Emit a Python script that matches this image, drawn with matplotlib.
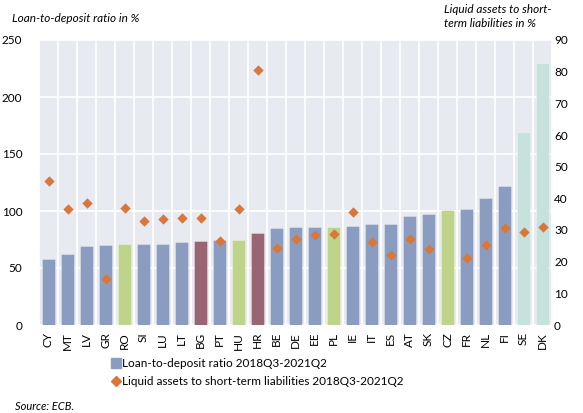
import matplotlib
matplotlib.use("Agg")
import matplotlib.pyplot as plt
from matplotlib.ticker import MultipleLocator, FixedLocator
from matplotlib.lines import Line2D
import numpy as np

countries = ["CY", "MT", "LV", "GR", "RO", "SI", "LU", "LT", "BG", "PT", "HU", "HR", "BE",
             "DE", "EE", "PL", "IE", "IT", "ES", "AT", "SK", "CZ", "FR", "NL", "FI", "SE", "DK"]
loan_to_deposit = [58, 62.3, 69.6, 70.2, 71.3, 71.1, 71.3, 73.1, 74.0, 74.3, 74.9, 81.0, 85.4,
                   85.6, 86.0, 86.0, 86.5, 88.9, 88.9, 95.6, 97.1, 100.9, 101.5, 111.7, 121.9, 169.3, 229.8]
liquid_assets = [45.6, 36.7, 38.5, 14.5, 36.9, 32.8, 33.4, 33.8, 33.8, 26.6, 36.6, 80.5, 24.2,
                 27.1, 28.3, 28.7, 35.8, 26.2, 22.2, 27.2, 24.0, np.nan, 21.2, 25.4, 30.5, 29.4, 30.8]
groups = ["a", "a", "a", "a", "b", "a", "a", "a", "c", "a", "b", "c", "a",
          "a", "a", "b", "a", "a", "a", "a", "a", "b", "a", "a", "a", "d", "d"]
labels = ["Loan-to-deposit ratio 2018Q3-2021Q2",
          "Liquid assets to short-term liabilities 2018Q3-2021Q2"]

group_colors = {"a": "#8A9DC0", "b": "#BED488", "c": "#996575", "d": "#C7E2DC"}
bg = "#E8EAF2"
orange = "#D9773A"

plt.rcParams["font.family"] = ["Lato", "DejaVu Sans"]

fig = plt.figure(figsize=(5.83, 4.13), dpi=100)
ax = fig.add_axes([39 / 583, 1 - 325 / 413, 513 / 583, 285 / 413])
ax.set_facecolor(bg)

x = np.arange(len(countries))
bar_colors = [group_colors[g] for g in groups]
bars = ax.bar(x, loan_to_deposit, width=0.64, color=bar_colors,
              edgecolor=matplotlib.colors.to_rgba("white", 0.35), linewidth=0.6, zorder=3)

ax.set_xlim(-0.5, len(countries) - 0.5)
ax.set_ylim(0, 250)
ax.yaxis.set_major_locator(MultipleLocator(50))
ax.set_xticks(x)
ax.set_xticklabels(countries, rotation=90, fontsize=8.5)
ax.xaxis.set_minor_locator(FixedLocator(np.arange(-0.5, len(countries), 1.0)))
ax.grid(axis="y", which="major", color="white", linewidth=1.3, zorder=0)
ax.grid(axis="x", which="minor", color="white", linewidth=1.3, zorder=0)
ax.tick_params(axis="both", which="both", length=0)
ax.tick_params(axis="y", labelsize=8.5, pad=12)
ax.tick_params(axis="x", pad=5)
for s in ax.spines.values():
    s.set_visible(False)

ax2 = ax.twinx()
ax2.set_ylim(0, 90)
ax2.yaxis.set_major_locator(MultipleLocator(10))
ax2.tick_params(axis="y", length=0, labelsize=8.5, pad=1.5)
for s in ax2.spines.values():
    s.set_visible(False)
ax2.scatter(x, liquid_assets, marker="D", s=28, color=orange, zorder=5, linewidths=0)

fig.text(12 / 583, 1 - 19 / 413, "Loan-to-deposit ratio in %", fontsize=8.5,
         style="italic", va="center")
fig.text(444 / 583, 1 - 16.5 / 413, "Liquid assets to short-\nterm liabilities in %", fontsize=8.5,
         style="italic", va="center", linespacing=1.25)
fig.text(15 / 583, 1 - 407 / 413, "Source: ECB.", fontsize=8, style="italic", va="center")

h1 = Line2D([], [], marker="s", linestyle="none", color=group_colors["a"], markersize=7)
h2 = Line2D([], [], marker="D", linestyle="none", color=orange, markersize=5)
fig.legend([h1, h2], labels, loc="upper left", bbox_to_anchor=(112 / 583, 1 - 358 / 413),
           frameon=False, fontsize=8.5, handlelength=0.6, handletextpad=0.25,
           labelspacing=0.6, borderaxespad=0, borderpad=0)

fig.savefig("out.png", dpi=100, facecolor="white")
